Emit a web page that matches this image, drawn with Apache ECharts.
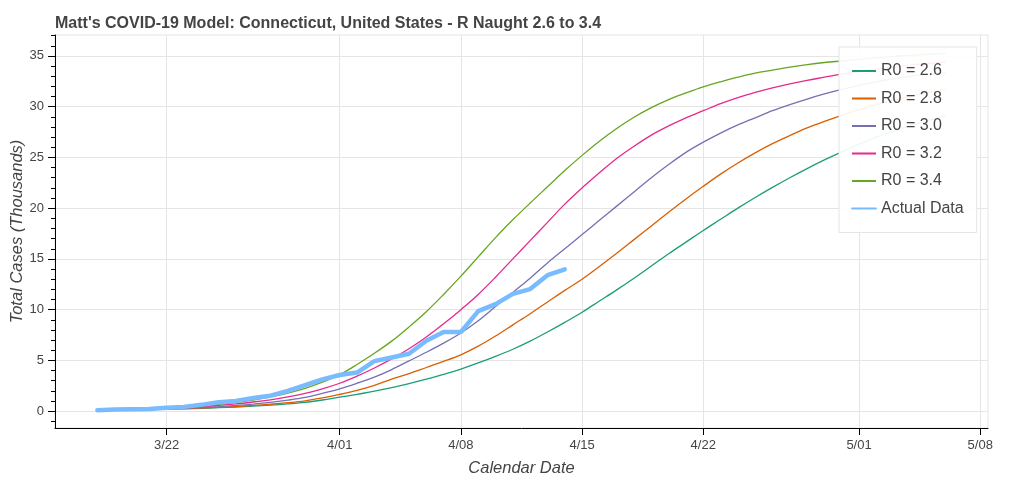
<!DOCTYPE html>
<html>
<head>
<meta charset="utf-8">
<script src="https://cdn.jsdelivr.net/npm/echarts@6/dist/echarts.min.js"></script>
<style>
html,body{margin:0;padding:0;background:#fff;}
#chart{width:1024px;height:482px;}
</style>
</head>
<body>
<div id="chart"></div>
<script>
// x values are days counted from March 1 (3/18 = 17)
const modelStartDay = 17;   // 3/18
const actualStartDay = 17;  // 3/18

const seriesNames = ['R0 = 2.6', 'R0 = 2.8', 'R0 = 3.0', 'R0 = 3.2', 'R0 = 3.4'];

const r0_26 = [0.10,0.11,0.13,0.16,0.19,0.23,0.28,0.34,0.41,0.49,0.59,0.71,0.86,1.10,1.38,1.65,1.97,2.32,2.72,3.15,3.62,4.15,4.75,5.40,6.10,6.90,7.80,8.75,9.75,10.85,11.95,13.10,14.30,15.50,16.65,17.80,18.90,20.00,21.05,22.05,23.00,23.90,24.75,25.55,26.30,27.00,27.60,28.15,28.65,29.10];
const r0_28 = [0.10,0.12,0.14,0.17,0.21,0.26,0.31,0.38,0.46,0.56,0.68,0.83,1.02,1.30,1.65,2.05,2.55,3.15,3.70,4.30,4.90,5.55,6.40,7.40,8.50,9.60,10.75,11.90,13.00,14.25,15.55,16.90,18.25,19.60,20.90,22.15,23.35,24.45,25.45,26.35,27.15,27.90,28.55,29.15,29.70,30.20,30.65,31.05,31.40,31.70];
const r0_30 = [0.10,0.12,0.15,0.19,0.24,0.29,0.36,0.45,0.56,0.70,0.87,1.08,1.35,1.75,2.20,2.75,3.35,4.10,4.95,5.80,6.70,7.70,8.90,10.30,11.70,13.10,14.60,16.00,17.40,18.80,20.20,21.60,23.00,24.30,25.50,26.50,27.40,28.20,28.90,29.60,30.20,30.75,31.25,31.70,32.10,32.45,32.75,33.00,33.20,33.35];
const r0_32 = [0.10,0.13,0.17,0.22,0.28,0.36,0.45,0.57,0.72,0.90,1.12,1.40,1.75,2.20,2.75,3.45,4.25,5.15,6.15,7.30,8.60,10.00,11.50,13.20,15.00,16.80,18.60,20.40,22.00,23.50,24.90,26.10,27.20,28.10,28.90,29.60,30.30,30.90,31.40,31.85,32.25,32.60,32.90,33.20,33.45,33.70,33.90,34.10,34.25,34.40];
const r0_34 = [0.10,0.14,0.18,0.24,0.31,0.40,0.52,0.67,0.86,1.10,1.40,1.78,2.25,2.85,3.60,4.60,5.70,6.90,8.30,9.80,11.50,13.30,15.20,17.10,18.85,20.50,22.10,23.70,25.20,26.60,27.85,28.95,29.90,30.70,31.35,31.95,32.45,32.90,33.30,33.60,33.90,34.15,34.35,34.50,34.65,34.80,34.95,35.05,35.15,35.25];
const actualData = [0.10,0.16,0.19,0.22,0.33,0.42,0.62,0.88,1.01,1.29,1.52,1.99,2.57,3.13,3.56,3.80,4.93,5.28,5.65,6.93,7.80,7.80,9.85,10.55,11.55,12.03,13.40,13.98];

const xTickDays = [21, 31, 38, 45, 52, 61, 68];
const xTickLabels = ['3/22', '4/01', '4/08', '4/15', '4/22', '5/01', '5/08'];
const yTickValues = [0, 5, 10, 15, 20, 25, 30, 35];
const yMinorTickValues = [-1,0,1,2,3,4,5,6,7,8,9,10,11,12,13,14,15,16,17,18,19,20,21,22,23,24,25,26,27,28,29,30,31,32,33,34,35,36,37];

const colors = ['#1b9e77', '#d95f02', '#7570b3', '#e7298a', '#66a61e'];
const actualColor = '#78bcff';

const models = [r0_26, r0_28, r0_30, r0_32, r0_34];
const font = 'Liberation Sans, Arial, Helvetica, sans-serif';

const series = models.map((vals, k) => ({
  name: seriesNames[k],
  type: 'line',
  data: vals.map((v, i) => [modelStartDay + i, v]),
  symbol: 'none',
  smooth: 0.35,
  lineStyle: { color: colors[k], width: 1.3 },
  itemStyle: { color: colors[k] },
  z: 2
}));
series.push({
  name: 'Actual Data',
  type: 'line',
  data: actualData.map((v, i) => [actualStartDay + i, v]),
  symbol: 'none',
  lineStyle: { color: actualColor, width: 4.5, join: 'round', cap: 'round' },
  itemStyle: { color: actualColor },
  z: 3
});

const chart = echarts.init(document.getElementById('chart'), null, { renderer: 'canvas' });
chart.setOption({
  animation: false,
  backgroundColor: '#ffffff',
  textStyle: { fontFamily: font },
  title: {
    text: "Matt's COVID-19 Model: Connecticut, United States - R Naught 2.6 to 3.4",
    left: 50,
    top: 11,
    textStyle: { fontSize: 16, fontWeight: 'bold', color: '#444444', fontFamily: font }
  },
  grid: {
    left: 55, right: 36, top: 35, bottom: 54,
    containLabel: false,
    outerBoundsMode: 'none',
    show: true, borderColor: '#e5e5e5', borderWidth: 1, backgroundColor: 'transparent'
  },
  legend: {
    orient: 'vertical',
    left: 839,
    top: 47,
    padding: [16, 13, 16, 12],
    itemWidth: 24,
    itemHeight: 14,
    itemGap: 11.5,
    itemStyle: { opacity: 0 },
    backgroundColor: 'rgba(255,255,255,0.92)',
    borderColor: '#e5e5e5',
    borderWidth: 1,
    textStyle: { fontSize: 16, color: '#444444', fontFamily: font },
    data: seriesNames.concat(['Actual Data'])
  },
  xAxis: {
    type: 'value',
    min: 14.55,
    max: 68.45,
    name: 'Calendar Date',
    nameLocation: 'middle',
    nameGap: 32,
    nameMoveOverlap: false,
    nameTextStyle: { fontSize: 16.5, fontStyle: 'italic', color: '#444444', fontFamily: font },
    axisLine: { show: true, onZero: false, lineStyle: { color: '#000000', width: 1 } },
    axisTick: { show: true, length: 7, customValues: xTickDays, lineStyle: { color: '#000000' } },
    axisLabel: {
      show: true, margin: 11, fontSize: 13, color: '#444444', fontFamily: font,
      customValues: xTickDays,
      formatter: v => { const i = xTickDays.indexOf(v); return i >= 0 ? xTickLabels[i] : ''; }
    },
    splitLine: { show: true, lineStyle: { color: '#e5e5e5', width: 1 } }
  },
  yAxis: [{
    type: 'value',
    min: -1.66,
    max: 37.06,
    position: 'left',
    name: 'Total Cases (Thousands)',
    nameLocation: 'middle',
    nameGap: 29,
    nameRotate: 90,
    nameMoveOverlap: false,
    nameTextStyle: { fontSize: 16.5, fontStyle: 'italic', color: '#444444', fontFamily: font },
    axisLine: { show: true, onZero: false, lineStyle: { color: '#000000', width: 1 } },
    axisTick: { show: true, length: 7, customValues: yTickValues, lineStyle: { color: '#000000' } },
    axisLabel: { show: true, margin: 11, fontSize: 13, color: '#444444', fontFamily: font, customValues: yTickValues },
    splitLine: { show: true, lineStyle: { color: '#e5e5e5', width: 1 } }
  }, {
    type: 'value',
    min: -1.66,
    max: 37.06,
    position: 'left',
    offset: 0,
    axisLine: { show: false, onZero: false },
    axisTick: { show: true, length: 4, customValues: yMinorTickValues, lineStyle: { color: '#000000' } },
    axisLabel: { show: false },
    splitLine: { show: false }
  }],
  series: series
});
</script>
</body>
</html>
